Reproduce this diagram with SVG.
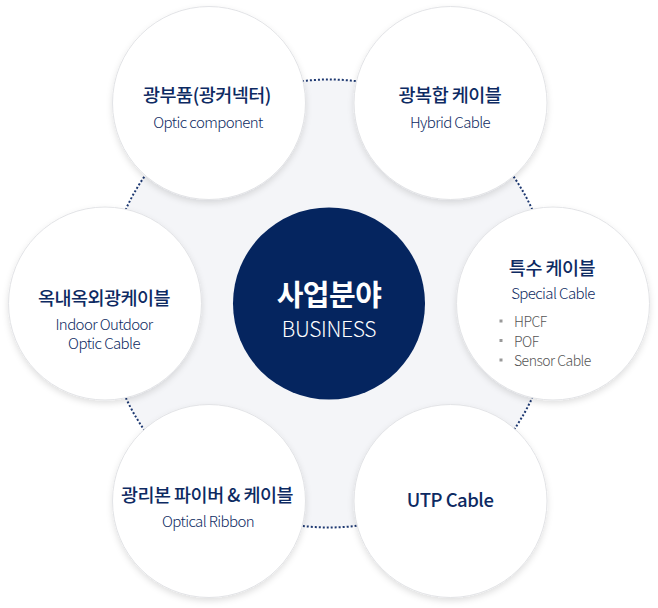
<svg xmlns="http://www.w3.org/2000/svg" width="658" height="608" viewBox="0 0 658 608">
<defs>
<filter id="sh" x="-20%" y="-20%" width="140%" height="150%">
<feDropShadow dx="0" dy="3" stdDeviation="3" flood-color="#000" flood-opacity="0.12"/>
</filter>
<style>
.node{fill:#fff;stroke:#e2e3e6;stroke-width:1;filter:url(#sh)}
.t{font-family:"Noto Sans CJK KR","Noto Sans",sans-serif;font-size:18.5px;font-weight:500;fill:#0d2a62;text-anchor:middle;letter-spacing:-0.5px}
.s{font-family:"Noto Sans CJK KR","Noto Sans",sans-serif;font-size:15px;font-weight:300;fill:#0d2a62;text-anchor:middle;letter-spacing:-0.6px}
.b{font-family:"Noto Sans CJK KR","Noto Sans",sans-serif;font-size:14px;font-weight:300;fill:#555;letter-spacing:-0.5px}
.dot{fill:#999}
</style>
</defs>
<rect width="658" height="608" fill="#fff"/>
<circle cx="329" cy="303.5" r="224" fill="#f4f5f8"/>
<g id="connectors">
<circle cx="329" cy="303.5" r="224" fill="none" stroke="#1c3770" stroke-width="2" stroke-dasharray="2 2"/>
</g>
<g id="node-center">
<circle cx="329" cy="303.5" r="96" fill="#05255f"/>
<text x="329" y="306" font-family="'Noto Sans CJK KR','Noto Sans',sans-serif" font-size="29" font-weight="700" fill="#fff" text-anchor="middle" letter-spacing="-0.5">사업분야</text>
<text x="329" y="337" font-family="'Noto Sans CJK KR','Noto Sans',sans-serif" font-size="21" font-weight="300" fill="#fff" text-anchor="middle" letter-spacing="-0.3">BUSINESS</text>
</g>
<g id="node-optic-component">
<circle class="node" cx="209" cy="103" r="96.5"/>
<text class="t" x="207" y="102">광부품(광커넥터)</text>
<text class="s" x="208" y="128">Optic component</text>
</g>
<g id="node-hybrid-cable">
<circle class="node" cx="450.5" cy="103" r="96.5"/>
<text class="t" x="450" y="102">광복합 케이블</text>
<text class="s" x="450" y="128">Hybrid Cable</text>
</g>
<g id="node-indoor-outdoor">
<circle class="node" cx="105" cy="303.5" r="96.5"/>
<text class="t" x="104" y="305">옥내옥외광케이블</text>
<text class="s" x="104" y="330">Indoor Outdoor</text>
<text class="s" x="104" y="349">Optic Cable</text>
</g>
<g id="node-special-cable">
<circle class="node" cx="553" cy="303.5" r="96.5"/>
<text class="t" x="552" y="275">특수 케이블</text>
<text class="s" x="553" y="299">Special Cable</text>
<rect class="dot" x="499.5" y="319.5" width="3" height="3"/>
<text class="b" x="514" y="327">HPCF</text>
<rect class="dot" x="499.5" y="339" width="3" height="3"/>
<text class="b" x="514" y="346.5">POF</text>
<rect class="dot" x="499.5" y="358.5" width="3" height="3"/>
<text class="b" x="514" y="366">Sensor Cable</text>
</g>
<g id="node-optical-ribbon">
<circle class="node" cx="209" cy="501" r="96.5"/>
<text class="t" x="207" y="502">광리본 파이버 &amp; 케이블</text>
<text class="s" x="208" y="527">Optical Ribbon</text>
</g>
<g id="node-utp-cable">
<circle class="node" cx="450.5" cy="501" r="96.5"/>
<text class="t" x="450" y="507" font-size="19.5">UTP Cable</text>
</g>
</svg>
